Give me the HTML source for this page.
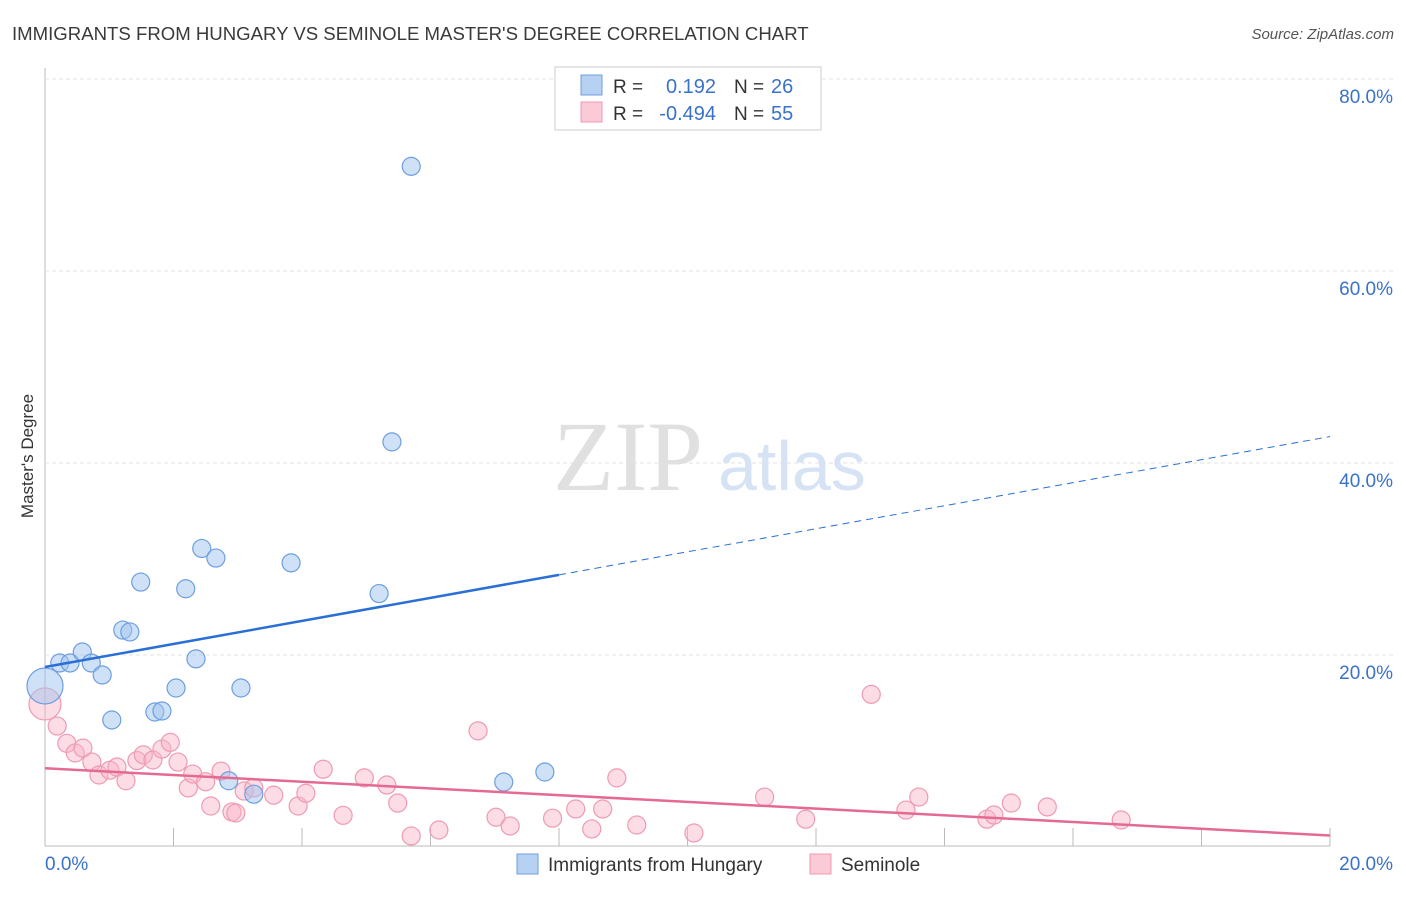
<!DOCTYPE html>
<html><head><meta charset="utf-8"><style>
body{margin:0;background:#fff;font-family:"Liberation Sans",sans-serif;}
svg text{font-family:"Liberation Sans",sans-serif;}
</style></head><body>
<svg id="chart" width="1406" height="892" xmlns="http://www.w3.org/2000/svg">
<text x="12" y="40" font-size="18.6" fill="#3a3a3a">IMMIGRANTS FROM HUNGARY VS SEMINOLE MASTER'S DEGREE CORRELATION CHART</text>
<text x="1394" y="39" font-size="15" fill="#555" font-style="italic" text-anchor="end">Source: ZipAtlas.com</text>
<text x="33" y="456" font-size="17" fill="#333" text-anchor="middle" transform="rotate(-90 33 456)">Master's Degree</text>
<text x="553" y="490" font-size="100" fill="#e0e0e0" style="font-family:'Liberation Serif',serif">ZIP</text>
<text x="718" y="490" font-size="70" fill="#d5e3f5">atlas</text>
<g id="grid"></g><g id="ticks"></g><g id="pts"></g><g id="lines"></g>
<g>
<rect x="555" y="67" width="266" height="63" fill="#fff" stroke="#ccc"/>
<rect x="581" y="75" width="21" height="20" fill="#b7d1f2" stroke="#6d9fe0"/>
<rect x="581" y="102" width="21" height="20" fill="#fbcad7" stroke="#ef9ab2"/>
<text x="613" y="93" font-size="19" fill="#333">R =</text><text x="716" y="93" font-size="20" fill="#3a72c9" text-anchor="end">0.192</text>
<text x="734" y="93" font-size="19" fill="#333">N =</text><text x="771" y="93" font-size="20" fill="#3a72c9">26</text>
<text x="613" y="120" font-size="19" fill="#333">R =</text><text x="716" y="120" font-size="20" fill="#3a72c9" text-anchor="end">-0.494</text>
<text x="734" y="120" font-size="19" fill="#333">N =</text><text x="771" y="120" font-size="20" fill="#3a72c9">55</text>
</g>
<g>
<rect x="517" y="854" width="21" height="20" fill="#b7d1f2" stroke="#6d9fe0"/>
<text x="548" y="871" font-size="19" fill="#333">Immigrants from Hungary</text>
<rect x="810" y="854" width="21" height="20" fill="#fbcad7" stroke="#ef9ab2"/>
<text x="841" y="871" font-size="19" fill="#333">Seminole</text>
</g>
</svg>
<script>
const yTicks=[20,40,60,80];
const xTickLabels=["0.0%","20.0%"];
const blueX=[0,0.23,0.39,0.58,0.72,0.89,1.04,1.21,1.32,1.49,1.71,1.82,2.04,2.19,2.35,2.44,2.66,2.86,3.05,3.25,3.83,5.2,5.4,5.7,7.14,7.78];
const blueY=[16.77,19.17,19.17,20.31,19.17,17.92,13.23,22.6,22.4,27.6,14.06,14.17,16.56,26.9,19.6,31.1,30.1,6.9,16.56,5.5,29.6,26.4,42.2,70.9,6.77,7.81];
const pinkX=[0,0.19,0.34,0.47,0.59,0.73,0.84,1.01,1.12,1.26,1.43,1.53,1.68,1.82,1.95,2.07,2.23,2.3,2.5,2.58,2.74,2.91,2.97,3.1,3.25,3.56,3.94,4.06,4.33,4.64,4.97,5.32,5.49,5.7,6.13,6.74,7.02,7.24,7.9,8.26,8.51,8.68,8.9,9.21,10.1,11.2,11.84,12.86,13.4,13.6,14.66,14.77,15.04,15.6,16.75];
const pinkY=[14.9,12.6,10.8,9.8,10.3,8.85,7.5,8.0,8.33,6.9,9.0,9.6,9.06,10.2,10.9,8.85,6.15,7.6,6.8,4.27,7.9,3.65,3.54,5.83,6.15,5.4,4.27,5.6,8.1,3.3,7.2,6.46,4.58,1.15,1.77,12.1,3.1,2.19,3.0,3.96,1.88,3.96,7.2,2.29,1.46,5.2,2.9,15.9,3.85,5.2,2.9,3.33,4.58,4.17,2.81];
const blueTrend=[18.75,1.2];   // intercept, slope
const pinkTrend=[8.2,-0.35];
const NS="http://www.w3.org/2000/svg";
const X=v=>45+v/20*1285, Y=v=>847-v*9.6;
function mk(p,t,a){const e=document.createElementNS(NS,t);for(const k in a)e.setAttribute(k,a[k]);p.appendChild(e);return e;}
const grid=document.getElementById('grid'),ticks=document.getElementById('ticks'),pts=document.getElementById('pts'),lines=document.getElementById('lines');
const ax=mk(grid,'line',{x1:45,y1:68,x2:45,y2:846,stroke:'#bbb'});


const bx=mk(grid,'line',{x1:45,y1:846,x2:1330,y2:846,stroke:'#bbb'});


yTicks.forEach(t=>{
 const g=mk(grid,'line',{x1:45,x2:1394,y1:Y(t),y2:Y(t),stroke:'#e2e2e2','stroke-dasharray':'4,3'});
 
 
 const l=mk(ticks,'text',{x:1393,y:Y(t)+24,'font-size':19,fill:'#3a72c9','text-anchor':'end'});l.textContent=t.toFixed(1)+'%';
 
 
});
for(let i=0;i<=10;i++){const t=mk(ticks,'line',{x1:X(i*2),x2:X(i*2),y1:i==0?846:828,y2:846,stroke:'#bbb'});
 
 }
const xl0=mk(ticks,'text',{x:45,y:870,'font-size':19,fill:'#3a72c9'});xl0.textContent=xTickLabels[0];


const xl1=mk(ticks,'text',{x:1393,y:870,'font-size':19,fill:'#3a72c9','text-anchor':'end'});xl1.textContent=xTickLabels[1];


pinkX.forEach((x,i)=>{const c=mk(pts,'circle',{cx:X(x),cy:Y(pinkY[i]),r:i==0?16:9,fill:'rgba(248,180,200,0.45)',stroke:'#ef9ab2','stroke-width':1.2});
 
 });
blueX.forEach((x,i)=>{const c=mk(pts,'circle',{cx:X(x),cy:Y(blueY[i]),r:i==0?18:9,fill:'rgba(160,196,238,0.5)',stroke:'#6d9fe0','stroke-width':1.2});
 
 });
const bt=x=>blueTrend[0]+blueTrend[1]*x, pt=x=>pinkTrend[0]+pinkTrend[1]*x;
const l1=mk(lines,'line',{x1:X(0),y1:Y(bt(0)),x2:X(8),y2:Y(bt(8)),stroke:'#2a6fd6','stroke-width':2.5});


const l2=mk(lines,'line',{x1:X(8),y1:Y(bt(8)),x2:X(20),y2:Y(bt(20)),stroke:'#2a6fd6','stroke-width':1,'stroke-dasharray':'7,5'});


const l3=mk(lines,'line',{x1:X(0),y1:Y(pt(0)),x2:X(20),y2:Y(pt(20)),stroke:'#e56a93','stroke-width':2.5});


</script>
</body></html>
